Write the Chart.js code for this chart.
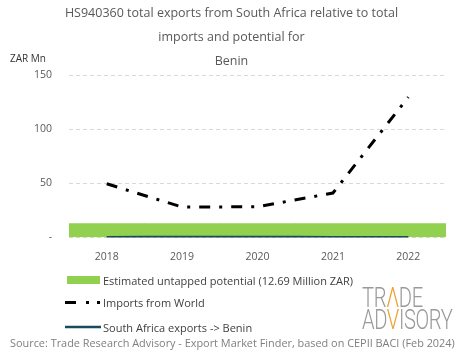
<!DOCTYPE html>
<html><head><meta charset="utf-8">
<script src="https://cdn.jsdelivr.net/npm/chart.js@4.4.1/dist/chart.umd.min.js"></script>
<style>
html,body{margin:0;padding:0;background:#fff;}
#wrap{position:relative;width:465px;height:359px;font-family:"Open Sans",sans-serif;overflow:hidden;}
#cw{position:absolute;left:0;top:0;width:465px;height:359px;}
.leg{position:absolute;left:64px;height:16px;font-size:11px;color:#404040;display:flex;align-items:center;white-space:nowrap;}
.leg canvas{margin-right:1px;}
#logo{position:absolute;left:362px;top:287px;width:120px;color:#9a9a9a;font-family:Roboto,"Open Sans",sans-serif;font-weight:300;font-size:28px;line-height:22px;transform:scaleX(0.72);transform-origin:left top;letter-spacing:-0.5px;}
#logo .o{color:#f0a030;}
#src{position:absolute;left:10px;top:335px;font-size:10.9px;color:#7f7f7f;white-space:nowrap;}
</style></head><body>
<div id="wrap">
  <div id="cw"><canvas id="c"></canvas></div>
  <div id="legend"></div>
  <div id="logo"><div>TR<span class="o">Λ</span>DE</div><div>AD<span class="o">V</span>ISORY</div></div>
  <div id="src"></div>
</div>
<script>
const years = ['2018', '2019', '2020', '2021', '2022'];
const importsFromWorld = [49.5, 28, 28.3, 41, 129.5];
const southAfricaExports = [0.2, 0.3, 0.3, 0.2, 0.1];
const untappedPotential = [12.69, 12.69, 12.69, 12.69, 12.69];
const yTickValues = [0, 50, 100, 150];
const seriesNames = ['Estimated untapped potential (12.69 Million ZAR)', 'Imports from World', 'South Africa exports -> Benin'];
const titleLines = ['HS940360 total exports from South Africa relative to total', 'imports and potential for', 'Benin'];
const yAxisUnit = 'ZAR Mn';
const sourceText = 'Source: Trade Research Advisory - Export Market Finder, based on CEPII BACI (Feb 2024)';

const GREEN = '#92d050', BLACK = '#000000', TEAL = '#1b4a5c';
const IMPORT_DASH = [11, 9, 3, 9];

const unitLabel = {
  id: 'unitLabel',
  afterDraw(chart) {
    const ctx = chart.ctx;
    ctx.save();
    ctx.font = '10px "Open Sans", sans-serif';
    ctx.fillStyle = '#333333';
    ctx.textAlign = 'left';
    ctx.textBaseline = 'middle';
    ctx.fillText(yAxisUnit, 10, chart.chartArea.top - 16);
    ctx.restore();
  }
};

new Chart(document.getElementById('c'), {
  data: {
    labels: years,
    datasets: [
      { type: 'bar', label: seriesNames[0], data: untappedPotential, backgroundColor: GREEN,
        barPercentage: 1, categoryPercentage: 1, order: 3 },
      { type: 'line', label: seriesNames[1], data: importsFromWorld, borderColor: BLACK,
        borderWidth: 3, borderDash: IMPORT_DASH, borderCapStyle: 'butt', tension: 0,
        pointRadius: 0, fill: false, order: 1 },
      { type: 'line', label: seriesNames[2], data: southAfricaExports, borderColor: TEAL,
        borderWidth: 2.5, tension: 0.3, pointRadius: 0, fill: false, order: 2 }
    ]
  },
  options: {
    responsive: true, maintainAspectRatio: false, animation: false,
    layout: { padding: { left: 17, right: 19, top: 0, bottom: 83 } },
    plugins: {
      legend: { display: false },
      tooltip: { enabled: false },
      title: { display: true, text: titleLines, color: '#595959',
        font: { family: '"Open Sans", sans-serif', size: 12.5, weight: 'normal', lineHeight: '24px' },
        padding: { top: 1, bottom: 2 } }
    },
    scales: {
      x: { offset: true, grid: { display: false, drawTicks: false }, border: { display: false },
        ticks: { color: '#595959', padding: 13, font: { family: '"Open Sans", sans-serif', size: 10.5 } } },
      y: { min: 0, max: 150, afterBuildTicks: s => { s.ticks = yTickValues.map(v => ({ value: v })); },
        grid: { color: '#d9d9d9', drawTicks: false, lineWidth: 1 },
        border: { display: false, dash: [4, 3] },
        ticks: { color: '#595959', padding: 17, font: { family: '"Open Sans", sans-serif', size: 10.5 },
          callback: v => v === 0 ? '-' : String(v) } }
    }
  },
  plugins: [unitLabel]
});

// HTML legend
const legend = document.getElementById('legend');
const legTops = [272, 294, 319];
seriesNames.forEach((name, i) => {
  const d = document.createElement('div');
  d.className = 'leg';
  d.style.top = legTops[i] + 'px';
  const sw = document.createElement('canvas');
  sw.width = 38; sw.height = 10;
  const g = sw.getContext('2d');
  if (i === 0) { g.fillStyle = GREEN; g.fillRect(3, 1, 33, 8); }
  else if (i === 1) {
    g.fillStyle = BLACK;
    g.fillRect(1, 4, 11, 3);
    g.fillRect(22, 4, 3, 3);
    g.fillRect(33, 4, 3, 3);
  } else { g.strokeStyle = TEAL; g.lineWidth = 2.5; g.beginPath(); g.moveTo(1, 5); g.lineTo(37, 5); g.stroke(); }
  d.appendChild(sw);
  const t = document.createElement('span');
  t.textContent = name;
  d.appendChild(t);
  legend.appendChild(d);
});
document.getElementById('src').textContent = sourceText;
</script>
</body></html>
